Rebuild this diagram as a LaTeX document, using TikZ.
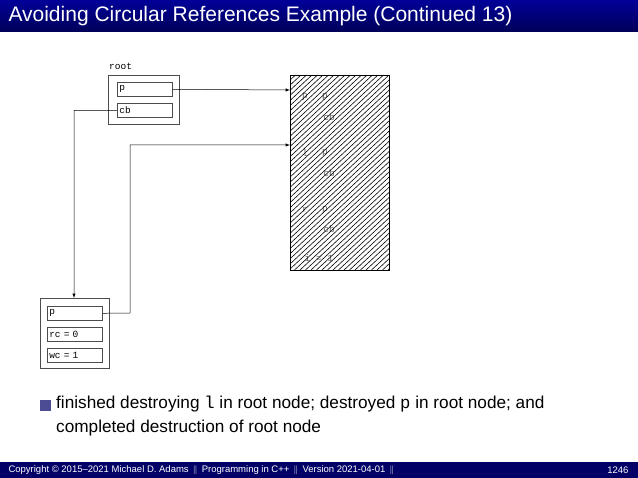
\documentclass[tikz,border=0pt]{standalone}
\usepackage{fontspec}
\setmainfont{Liberation Sans}
\setmonofont{Liberation Mono}
\begin{document}
\begin{tikzpicture}[x=1pt,y=-1pt,
  fld/.style={draw=black!70,line width=0.6pt,minimum width=55pt,minimum height=14pt,inner sep=1.5pt,font=\ttfamily\fontsize{9.5}{10}\selectfont,text width=51pt,align=left,anchor=north west},
  outer/.style={draw=black!70,line width=0.7pt},
  arr/.style={-latex,line width=0.5pt}]
\useasboundingbox (0,0) rectangle (638,478);
\shade[top color=blue!60!black,bottom color=blue!35!black] (0,0) rectangle (638,32);
\node[anchor=west,text=white,font=\fontsize{21}{24}\selectfont] (title) at (5,16) {Avoiding Circular References Example (Continued 13)};
% root
\node[anchor=south west,font=\ttfamily\fontsize{9.5}{10}\selectfont,inner sep=1pt] (rootlbl) at (108,71) {root};
\draw[outer] (108,75) rectangle (179,124);
\node[fld] (rp) at (117,82) {p};
\node[fld] (rcb) at (117,103) {cb};
% hatched
\node[minimum width=99pt,minimum height=195pt,anchor=north west,inner sep=0] (hat) at (290,75) {};
\begin{scope}[font=\ttfamily\fontsize{9.5}{10}\selectfont,text=black!60]
\node (h1) at (305,97) {p}; \node (h2) at (325,97) {p}; \node (h3) at (329,117) {cb};
\node (h4) at (305,153) {l}; \node (h5) at (325,153) {p}; \node (h6) at (329,173) {cb};
\node (h7) at (305,210) {r}; \node (h8) at (325,210) {p}; \node (h9) at (329,229) {cb};
\node (h10) at (319,258) {i = 1};
\end{scope}
\begin{scope}
\clip (290,75) rectangle (389,270);
\foreach \i in {0,5.5,...,340}{\draw[line width=0.6pt] (290+\i-210,270) -- (290+\i,75);}
\end{scope}
\draw[line width=0.6pt] (290,75) rectangle (389,270);
% bottom box
\draw[outer] (40,298) rectangle (109,368);
\node[fld] (bp) at (47,306) {p};
\node[fld] (brc) at (47,327) {rc = 0};
\node[fld] (bwc) at (47,348) {wc = 1};
\coordinate (bt) at (74,298);
\coordinate (h1in) at (290,90);
\coordinate (h2in) at (290,145);
\draw[arr] (rp.east) -- (h1in);
\draw[arr] (bp.east) -- (130,313) -- (130,145) -- (h2in);
\draw[arr] (rcb.west) -- (74,110.5) -- (bt);
% bullet
\fill[blue!40!black!70] (40,400) rectangle (51,411);
\node[anchor=north west,align=left,font=\fontsize{17.2}{24}\selectfont,inner sep=0] (txt) at (56,396) {finished destroying \texttt{l} in root node; destroyed \texttt{p} in root node; and\\completed destruction of root node};
% footer
\fill[blue!40!black] (0,462) rectangle (638,478);
\node[anchor=west,text=white,font=\fontsize{9.5}{10}\selectfont] (foot) at (5,470) {Copyright \copyright{} 2015--2021 Michael D. Adams \,\textbf{$\|$}\, Programming in C++ \,\textbf{$\|$}\, Version 2021-04-01 \,\textbf{$\|$}};
\node[anchor=east,text=white,font=\fontsize{9.5}{10}\selectfont] (pg) at (632,470) {1246};
\end{tikzpicture}
\end{document}
